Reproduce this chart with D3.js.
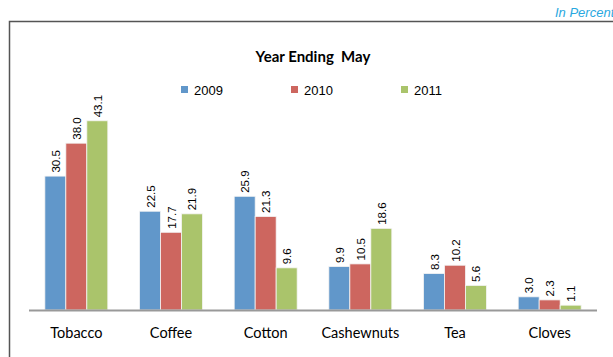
<!DOCTYPE html>
<html><head><meta charset="utf-8">
<script src="https://cdn.jsdelivr.net/npm/d3@7"></script>
<style>body{margin:0;background:#fff}svg{display:block}</style>
</head><body>
<script>
const categories = ["Tobacco","Coffee","Cotton","Cashewnuts","Tea","Cloves"];
const seriesNames = ["2009","2010","2011"];
const values2009 = [30.5,22.5,25.9,9.9,8.3,3.0];
const values2010 = [38.0,17.7,21.3,10.5,10.2,2.3];
const values2011 = [43.1,21.9,9.6,18.6,5.6,1.1];
const colors = ["#6197ca","#cd665f","#aac46b"];
const series = [values2009, values2010, values2011];

const W = 613, H = 357;
const svg = d3.select("body").append("svg").attr("width", W).attr("height", H);

// frame
svg.append("path").attr("d", `M9.5,${H} V21.5 H${W}`).attr("fill","none").attr("stroke","#555").attr("stroke-width",1.5);

svg.append("text").attr("x",555).attr("y",17).attr("font-family","Liberation Sans").attr("font-style","italic")
  .attr("font-size",13).attr("fill","#29a8e0").text("In Percent");

svg.append("text").attr("x",313).attr("y",62).attr("text-anchor","middle").attr("font-family","Lato")
  .attr("font-weight","bold").attr("font-size",15).attr("fill","#000").style("white-space","pre").text("Year Ending  May");

const x0 = d3.scaleBand().domain(categories).range([29,597]).paddingInner(0.335).paddingOuter(0.1675);
const x1 = d3.scaleBand().domain(seriesNames).range([0,x0.bandwidth()]);
const y = d3.scaleLinear().domain([0,50]).range([310,90.5]);

// legend
const legX = [181,291,401];
seriesNames.forEach((s,i)=>{
  svg.append("rect").attr("x",legX[i]).attr("y",86).attr("width",7).attr("height",7).attr("fill",colors[i]);
  svg.append("text").attr("x",legX[i]+13).attr("y",94.5).attr("font-family","Liberation Sans").attr("font-size",13).attr("fill","#000").text(s);
});

categories.forEach((c,ci)=>{
  series.forEach((vals,si)=>{
    const v = vals[ci];
    const bx = x0(c)+x1(seriesNames[si]);
    svg.append("rect").attr("x",bx).attr("y",y(v)).attr("width",x1.bandwidth()).attr("height",y(0)-y(v))
      .attr("fill",colors[si]).attr("stroke","#f4f4f4").attr("stroke-width",0.8);
    const cx = bx + x1.bandwidth()/2 + 4.5;
    const ty = y(v)-3.5;
    svg.append("text").attr("transform",`translate(${cx},${ty}) rotate(-90)`)
      .attr("font-family","Liberation Sans").attr("font-size",11.5).attr("fill","#000").text(v.toFixed(1));
  });
});

// axis
const axis = svg.append("g").attr("transform","translate(0,310)").call(d3.axisBottom(x0).tickSize(0).tickPadding(0));
axis.select(".domain").attr("d","M29,0.5H597").attr("stroke","#999").attr("stroke-width",2);
axis.selectAll(".tick text").attr("y",28).attr("dy",null).attr("font-family","Lato").attr("font-size",14.5).attr("fill","#000");
</script>
</body></html>
